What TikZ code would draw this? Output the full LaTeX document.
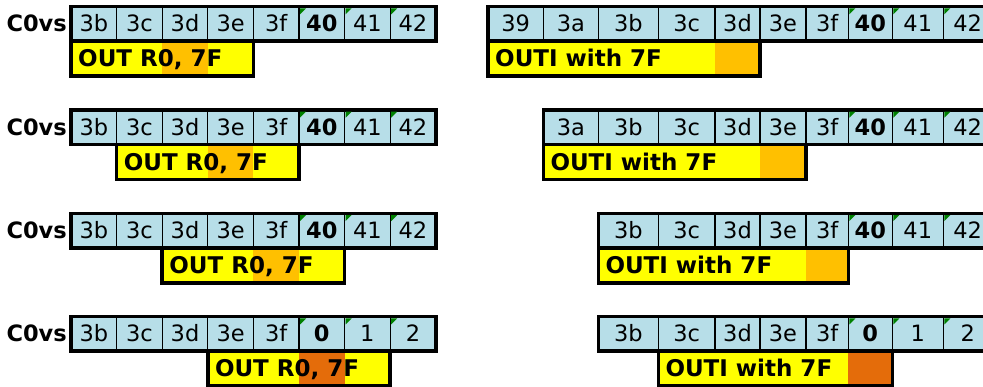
\documentclass[tikz,border=0pt]{standalone}
\usepackage{fontspec}
\setmainfont{DejaVu Sans}
\usetikzlibrary{positioning,fit,calc}

\definecolor{cellblue}{RGB}{183,222,232}
\definecolor{markyellow}{RGB}{255,255,0}
\definecolor{lightorange}{RGB}{255,192,0}
\definecolor{darkorange}{RGB}{228,108,10}
\definecolor{notegreen}{RGB}{0,128,0}

\begin{document}
\begin{tikzpicture}[
        x=1pt, y=-1pt,
        cell/.style={
            draw=black,
            line width=1.2pt,
            fill=cellblue,
            inner sep=0pt,
            outer sep=0pt,
            minimum height=34.5pt,
            text height=16pt,
            text depth=0pt,
            font=\fontsize{22.5}{24}\selectfont
        },
        rowname/.style={
            inner sep=0pt,
            text height=16pt,
            text depth=0pt,
            font=\fontsize{22.5}{24}\selectfont\bfseries
        },
        outbox/.style={fill=markyellow, inner sep=0pt, outer sep=0pt},
        boxtext/.style={
            inner sep=0pt,
            text height=16.5pt,
            text depth=0pt,
            font=\fontsize{23}{25}\selectfont\bfseries
        },
        edge/.style={draw=black, line width=3.5pt},
        note/.style={fill=notegreen}
    ]
        \useasboundingbox (0,0) rectangle (983,387);

        % left half: OUT R0, 7F
        \foreach \r/\pa/\pb/\pc/\hot in {1/40/41/42/lightorange, 2/40/41/42/lightorange,
                3/40/41/42/lightorange, 4/0/1/2/darkorange} {
            \pgfmathsetmacro{\yc}{23.75+103.4*(\r-1)}
            \foreach \t [count=\i from 0] in {3b,3c,3d,3e,3f,{\textbf{\pa}},\pb,\pc}
                \node[cell, minimum width=45.6pt] (a\r-\i) at ({71+45.6*(\i+0.5)}, \yc) {\t};
            \node[rowname, left=4pt of a\r-0] (na\r) {C0vs};
            \pgfmathtruncatemacro{\s}{\r-1}
            \pgfmathtruncatemacro{\e}{\r+2}
            \pgfmathtruncatemacro{\h}{\r+1}
            \coordinate (ya\r) at (a\r-\s.south west);
            \coordinate (yb\r) at ($(a\r-\e.south east)+(0,35)$);
            \node[outbox, fit=(ya\r)(yb\r)] (oa\r) {};
            \fill[\hot] (a\r-\h.south west) rectangle ($(a\r-\h.south east)+(0,35)$);
            \node[boxtext, right=7pt of oa\r.west] (ta\r) {OUT R0, 7F};
            \draw[edge] (a\r-0.north west) rectangle (a\r-7.south east);
            \draw[edge] (oa\r.north west) rectangle (oa\r.south east);
            \foreach \i in {5,6,7}
                \fill[note] ($(a\r-\i.north west)+(1,1.8)$) -- ++(6,0) -- ++(-6,6) -- cycle;
        }

        % right half: OUTI with 7F
        \foreach \r/\first/\pa/\pb/\pc/\hot in {1/0/40/41/42/lightorange, 2/1/40/41/42/lightorange,
                3/2/40/41/42/lightorange, 4/2/0/1/2/darkorange} {
            \pgfmathsetmacro{\yc}{23.75+103.4*(\r-1)}
            \foreach \t/\xa/\xb [count=\i from 0] in {39/488/543.3, 3a/543.3/598.3, 3b/598.3/658.3,
                    3c/658.3/715, 3d/715/760, 3e/760/806, 3f/806/848.3,
                    {\textbf{\pa}}/848.3/892.3, \pb/892.3/943.3, \pc/943.3/992} {
                \ifnum\i<\first\relax\else
                    \node[cell, minimum width={\xb-\xa}] (b\r-\i) at ({(\xa+\xb)/2}, \yc) {\t};
                \fi
            }
            \pgfmathtruncatemacro{\s}{\r-1}
            \pgfmathtruncatemacro{\e}{\r+3}
            \coordinate (yc\r) at (b\r-\s.south west);
            \coordinate (yd\r) at ($(b\r-\e.south east)+(0,35)$);
            \node[outbox, fit=(yc\r)(yd\r)] (ob\r) {};
            \fill[\hot] (b\r-\e.south west) rectangle ($(b\r-\e.south east)+(0,35)$);
            \node[boxtext, right=7pt of ob\r.west] (tb\r) {OUTI with 7F};
            \draw[edge] (b\r-\first.north west) rectangle (b\r-9.south east);
            \draw[edge] (ob\r.north west) rectangle (ob\r.south east);
            \foreach \i in {7,8,9}
                \fill[note] ($(b\r-\i.north west)+(1,1.8)$) -- ++(6,0) -- ++(-6,6) -- cycle;
        }
    \end{tikzpicture}
\end{document}
